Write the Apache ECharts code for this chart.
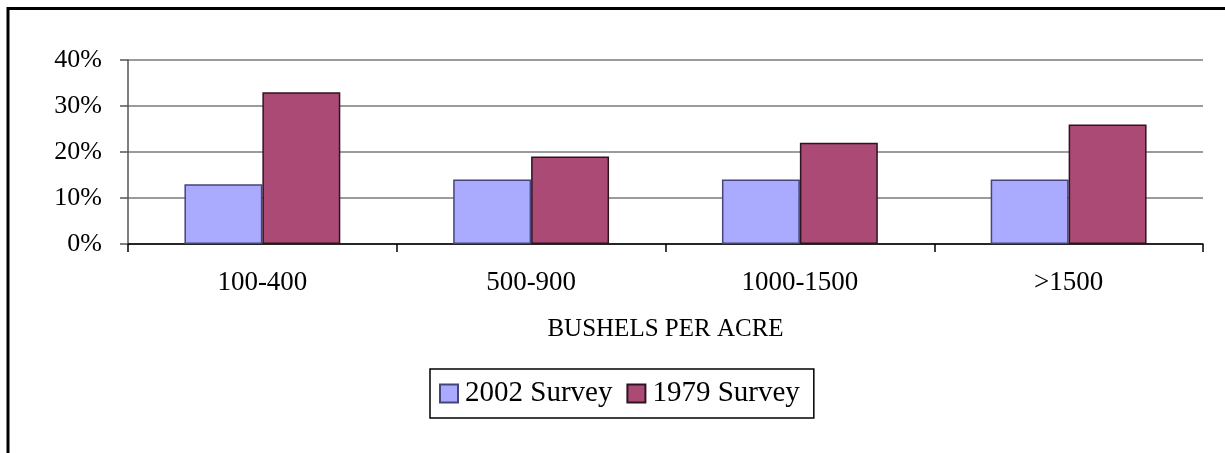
<!DOCTYPE html>
<html>
<head>
<meta charset="utf-8">
<script src="https://cdn.jsdelivr.net/npm/echarts@6/dist/echarts.min.js"></script>
<style>
  html, body { margin: 0; padding: 0; background: #fff; }
  #container { width: 1225px; height: 453px; }
</style>
</head>
<body>
<div id="container"></div>
<script>
// data
var categories = ['100-400', '500-900', '1000-1500', '>1500'];
var survey2002 = [13, 14, 14, 14];
var survey1979 = [33, 19, 22, 26];
var seriesNames = ['2002 Survey', '1979 Survey'];

var serif = 'Liberation Serif';

function drawChart() {
	var dom = document.getElementById('container');
	var myChart = echarts.init(dom);

	var option = {
		backgroundColor: '#fff',
		animation: false,
		textStyle: { fontFamily: serif, color: '#000' },
		// outer frame of the chart, cut off at right and bottom
		graphic: [{
			type: 'rect',
			shape: { x: 8, y: 8.5, width: 1240, height: 470 },
			style: { fill: 'none', stroke: '#000', lineWidth: 3 },
			silent: true
		}],
		grid: {
			left: 128,
			right: 22,
			top: 60,
			bottom: 209,
			containLabel: false
		},
		legend: {
			data: seriesNames,
			left: 430,
			top: 369,
			orient: 'horizontal',
			icon: 'rect',
			itemWidth: 18,
			itemHeight: 18,
			itemGap: 14,
			padding: [10, 14, 10, 9],
			borderColor: '#000',
			borderWidth: 1.5,
			backgroundColor: '#fff',
			textStyle: { fontFamily: serif, fontSize: 29, color: '#000', padding: [0, 0, 0, 2] }
		},
		xAxis: {
			type: 'category',
			data: categories,
			boundaryGap: true,
			name: 'BUSHELS PER ACRE',
			nameLocation: 'middle',
			nameGap: 73,
			nameTextStyle: { fontFamily: serif, fontSize: 25, color: '#000' },
			axisLine: { lineStyle: { color: '#000', width: 1.5 } },
			axisTick: { show: true, length: 8, inside: false, alignWithLabel: false, lineStyle: { color: '#000', width: 1.5 } },
			axisLabel: { fontFamily: serif, fontSize: 27, color: '#000', margin: 25 },
			splitLine: { show: false }
		},
		yAxis: {
			type: 'value',
			min: 0,
			max: 40,
			interval: 10,
			axisLine: { show: true, lineStyle: { color: '#555', width: 1.5 } },
			axisTick: { show: true, length: 8, inside: false, lineStyle: { color: '#555', width: 1.5 } },
			axisLabel: { fontFamily: serif, fontSize: 26, color: '#000', margin: 26, formatter: '{value}%' },
			splitLine: { show: true, lineStyle: { color: '#7a7a7a', width: 1.5 } }
		},
		series: [{
			name: seriesNames[0],
			type: 'bar',
			data: survey2002,
			barGap: '0%',
			barCategoryGap: '42%',
			itemStyle: { color: '#aaaaff', borderColor: '#45457a', borderWidth: 1.5 }
		}, {
			name: seriesNames[1],
			type: 'bar',
			data: survey1979,
			itemStyle: { color: '#aa4a75', borderColor: '#2e1420', borderWidth: 1.5 }
		}]
	};
	myChart.setOption(option, true);
}

window.onload = drawChart;
</script>
</body>
</html>
